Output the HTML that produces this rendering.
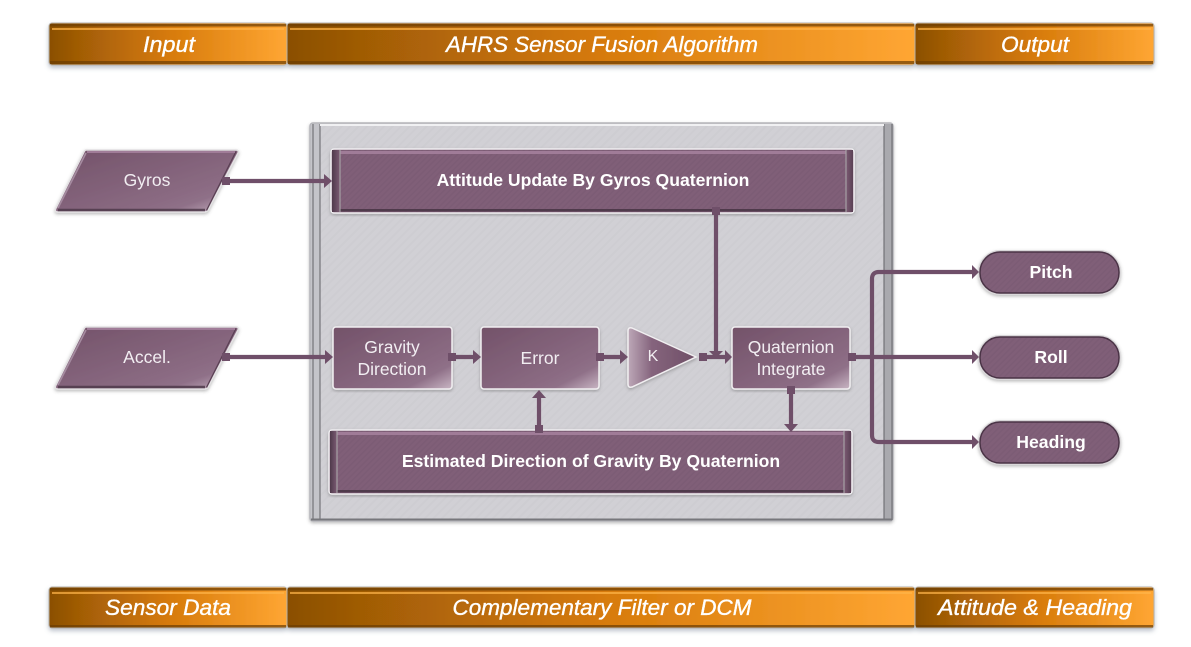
<!DOCTYPE html>
<html><head><meta charset="utf-8">
<style>
html,body{margin:0;padding:0;background:#fff;width:1191px;height:647px;overflow:hidden}
svg{display:block}
text{font-family:"Liberation Sans",sans-serif;text-anchor:middle}
.h{font-size:22.5px;font-style:italic;fill:#fff;stroke:#fff;stroke-width:.35px}
.n{font-size:17.5px;fill:#f2eef2}
.b{font-size:17.6px;font-weight:bold;fill:#fff}
</style></head><body>
<svg width="1191" height="647" viewBox="0 0 1191 647" xmlns="http://www.w3.org/2000/svg">
<defs>
<linearGradient id="or" x1="0" x2="1" y1="0" y2="0"><stop offset="0" stop-color="#8a4f05"/><stop offset=".12" stop-color="#a05c06"/><stop offset=".5" stop-color="#d67a0a"/><stop offset="1" stop-color="#ffa633"/></linearGradient>
<linearGradient id="pg" x1="0" x2="1" y1="0" y2="1"><stop offset="0" stop-color="#735269"/><stop offset=".68" stop-color="#8a6a82"/><stop offset=".8" stop-color="#8f7088"/><stop offset="1" stop-color="#c9b6c4"/></linearGradient>
<linearGradient id="pk" x1="0" x2="1" y1=".5" y2=".5"><stop offset="0" stop-color="#bda8b8"/><stop offset=".35" stop-color="#85647d"/><stop offset="1" stop-color="#6f4f66"/></linearGradient>
<linearGradient id="sl" x1="0" x2="1" y1="0" y2="0"><stop offset="0" stop-color="#4f3a4b"/><stop offset="1" stop-color="#7c5b74"/></linearGradient>
<linearGradient id="sr" x1="0" x2="1" y1="0" y2="0"><stop offset="0" stop-color="#7c5b74"/><stop offset="1" stop-color="#5a4054"/></linearGradient>
<pattern id="hatch" width="4" height="4" patternUnits="userSpaceOnUse" patternTransform="rotate(-45)"><rect width="4" height="4" fill="#805f78"/><rect width="4" height="1.5" fill="#7c5b74"/></pattern>
<pattern id="bg" width="6" height="6" patternUnits="userSpaceOnUse" patternTransform="rotate(-45)"><rect width="6" height="6" fill="#d1d0d5"/><rect width="6" height="2" fill="#cecdd2"/></pattern>
<filter id="sh" x="-10%" y="-20%" width="120%" height="150%"><feDropShadow dx="0" dy="2.5" stdDeviation="2.5" flood-color="#6d7c90" flood-opacity=".45"/></filter>
<filter id="sh2" x="-5%" y="-5%" width="110%" height="110%"><feDropShadow dx="0" dy="1.5" stdDeviation="1.5" flood-color="#555" flood-opacity=".4"/></filter>
</defs>

<g filter="url(#sh)">
<rect x="49" y="23" width="238" height="42" rx="3" fill="url(#or)" stroke="#b4b0aa" stroke-width="1"/>
<rect x="287" y="23" width="628" height="42" rx="3" fill="url(#or)" stroke="#b4b0aa" stroke-width="1"/>
<rect x="915" y="23" width="239" height="42" rx="3" fill="url(#or)" stroke="#b4b0aa" stroke-width="1"/>
<rect x="49" y="587" width="238" height="41" rx="3" fill="url(#or)" stroke="#b4b0aa" stroke-width="1"/>
<rect x="287" y="587" width="628" height="41" rx="3" fill="url(#or)" stroke="#b4b0aa" stroke-width="1"/>
<rect x="915" y="587" width="239" height="41" rx="3" fill="url(#or)" stroke="#b4b0aa" stroke-width="1"/>
</g>
<g fill="#ffb54a" opacity=".7">
<rect x="52" y="28" width="232" height="2"/><rect x="290" y="28" width="622" height="2"/><rect x="918" y="28" width="233" height="2"/>
<rect x="52" y="592" width="232" height="2"/><rect x="290" y="592" width="622" height="2"/><rect x="918" y="592" width="233" height="2"/>
</g>
<g fill="#6b3d04" opacity=".7">
<rect x="50" y="24" width="236" height="2.5"/><rect x="288" y="24" width="626" height="2.5"/><rect x="916" y="24" width="237" height="2.5"/>
<rect x="50" y="588" width="236" height="2.5"/><rect x="288" y="588" width="626" height="2.5"/><rect x="916" y="588" width="237" height="2.5"/>
<rect x="50" y="61" width="236" height="3"/><rect x="288" y="61" width="626" height="3"/><rect x="916" y="61" width="237" height="3"/>
<rect x="50" y="625" width="236" height="2.5"/><rect x="288" y="625" width="626" height="2.5"/><rect x="916" y="625" width="237" height="2.5"/>
</g>
<text class="h" x="169" y="52" textLength="52" lengthAdjust="spacingAndGlyphs">Input</text>
<text class="h" x="602" y="52" textLength="312" lengthAdjust="spacingAndGlyphs">AHRS Sensor Fusion Algorithm</text>
<text class="h" x="1035" y="52" textLength="68" lengthAdjust="spacingAndGlyphs">Output</text>
<text class="h" x="168" y="615" textLength="126" lengthAdjust="spacingAndGlyphs">Sensor Data</text>
<text class="h" x="602" y="615" textLength="299" lengthAdjust="spacingAndGlyphs">Complementary Filter or DCM</text>
<text class="h" x="1035" y="615" textLength="194" lengthAdjust="spacingAndGlyphs">Attitude &amp; Heading</text>

<!-- main panel -->
<rect x="310" y="123" width="583" height="398" rx="3" fill="url(#bg)" stroke="#b5b5ba" stroke-width="1.5" filter="url(#sh2)"/>
<rect x="311" y="124" width="9" height="396" fill="#c4c4c9"/>
<rect x="884" y="124" width="9" height="396" fill="#a9a9ae"/>
<path d="M313 124V520M320 124V520M884 124V520M892 124V520" stroke="#6c6c70" stroke-width="1.1" fill="none"/>
<path d="M311 519.5H892" stroke="#77777c" stroke-width="2" fill="none"/>
<path d="M320 125H884" stroke="#f0f0f2" stroke-width="2"/>

<!-- attitude update box -->
<g>
<rect x="331" y="149" width="523" height="64" rx="3" fill="url(#hatch)" stroke="#efeef0" stroke-width="1.5" filter="url(#sh2)"/>
<rect x="333" y="151" width="519" height="3" fill="#a07c98"/>
<rect x="333" y="209" width="519" height="2.5" fill="#4f3a4b"/>
<rect x="332" y="150" width="8" height="62" fill="url(#sl)"/>
<rect x="846" y="150" width="7" height="62" fill="url(#sr)"/>
<path d="M340 150V212M846 150V212" stroke="#a8a6a8" stroke-width="1.1"/>
</g>
<text class="b" x="593" y="186">Attitude Update By Gyros Quaternion</text>

<!-- estimated box -->
<g>
<rect x="329" y="430" width="523" height="64" rx="3" fill="url(#hatch)" stroke="#efeef0" stroke-width="1.5" filter="url(#sh2)"/>
<rect x="331" y="432" width="519" height="3" fill="#a07c98"/>
<rect x="331" y="490" width="519" height="2.5" fill="#4f3a4b"/>
<rect x="330" y="431" width="7" height="62" fill="url(#sl)"/>
<rect x="844" y="431" width="7" height="62" fill="url(#sr)"/>
<path d="M337 431V493M844 431V493" stroke="#a8a6a8" stroke-width="1.1"/>
</g>
<text class="b" x="591" y="467">Estimated Direction of Gravity By Quaternion</text>

<!-- process boxes -->
<g stroke="#f1eff1" stroke-width="1.5" filter="url(#sh2)">
<rect x="333" y="327" width="119" height="62" rx="3" fill="url(#pg)"/>
<rect x="481" y="327" width="118" height="62" rx="3" fill="url(#pg)"/>
<rect x="732" y="327" width="118" height="62" rx="3" fill="url(#pg)"/>
<path d="M632 328 L696 357 L632 387 Q628 388 628 384 V331 Q628 327 632 328Z" fill="url(#pk)"/>
</g>
<text class="n" x="392" y="353">Gravity</text>
<text class="n" x="392" y="375">Direction</text>
<text class="n" x="540" y="364">Error</text>
<text class="n" x="653" y="361" style="font-size:16px">K</text>
<text class="n" x="791" y="353">Quaternion</text>
<text class="n" x="791" y="375">Integrate</text>

<!-- parallelograms -->
<g stroke="#e3e1e3" stroke-width="1.5" filter="url(#sh2)">
<path d="M86 150 H236 Q239 150 238 153 L208 210 Q207 212 204 212 H58 Q54 212 56 208 L84 152 Q85 150 86 150Z" fill="url(#pg)"/>
<path d="M86 327 H236 Q239 327 238 330 L208 387 Q207 389 204 389 H58 Q54 389 56 385 L84 329 Q85 327 86 327Z" fill="url(#pg)"/>
</g>
<g fill="none" stroke-width="1.3" stroke="#5a4054">
<path d="M236 151.500L206.500 210.500"/><path d="M236 328.500L206.500 387.500"/>
</g>
<path d="M87 152H235M87 329H235" stroke="#a07c98" stroke-width="2"/>
<path d="M58 210H205M58 387H205" stroke="#4f3a4b" stroke-width="2.4" opacity=".85"/>
<path d="M86 153L58 208M86 330L58 385" stroke="#a58ba0" stroke-width="1.6"/>
<text class="n" x="147" y="186">Gyros</text>
<text class="n" x="147" y="363">Accel.</text>

<!-- pills -->
<g stroke="#d9d7d9" stroke-width="2" filter="url(#sh2)">
<rect x="979" y="251" width="141" height="43" rx="21" fill="url(#hatch)"/>
<rect x="979" y="336" width="141" height="43" rx="21" fill="url(#hatch)"/>
<rect x="979" y="421" width="141" height="43" rx="21" fill="url(#hatch)"/>
</g>
<g fill="none" stroke="#4a3346" stroke-width="1.5">
<rect x="980" y="252" width="139" height="41" rx="20"/>
<rect x="980" y="337" width="139" height="41" rx="20"/>
<rect x="980" y="422" width="139" height="41" rx="20"/>
</g>
<text class="b" x="1051" y="278">Pitch</text>
<text class="b" x="1051" y="363">Roll</text>
<text class="b" x="1051" y="448">Heading</text>

<!-- connectors -->
<g fill="none" stroke="#6f4f69" stroke-width="4.2">
<path d="M226 181H324"/>
<path d="M226 357H326"/>
<path d="M716 213V352"/>
<path d="M454 357H474"/>
<path d="M602 357H621"/>
<path d="M703 357H726"/>
<path d="M791 392V424"/>
<path d="M539 397V429"/>
<path d="M853 357H972"/>
<path d="M972 272H879Q872 272 872 279V435Q872 442 879 442H972"/>
</g>
<g fill="#6f4f69">
<rect x="222" y="177" width="8" height="8"/>
<rect x="222" y="353" width="8" height="8"/>
<rect x="712" y="207" width="8" height="8"/>
<rect x="448" y="353" width="8" height="8"/>
<rect x="596" y="353" width="8" height="8"/>
<rect x="699" y="353" width="8" height="8"/>
<rect x="848" y="353" width="8" height="8"/>
<rect x="787" y="386" width="8" height="8"/>
<rect x="535" y="425" width="8" height="8"/>
<path d="M324 174L332 181L324 188Z"/>
<path d="M325 350L333 357L325 364Z"/>
<path d="M473 350L481 357L473 364Z"/>
<path d="M620 350L628 357L620 364Z"/>
<path d="M725 350L732 357L725 364Z"/>
<path d="M709 351L716 358L723 351Z"/>
<path d="M784 424L791 432L798 424Z"/>
<path d="M532 398L539 390L546 398Z"/>
<path d="M972 265L979 272L972 279Z"/>
<path d="M972 350L979 357L972 364Z"/>
<path d="M972 435L979 442L972 449Z"/>
</g>
</svg>
</body></html>
